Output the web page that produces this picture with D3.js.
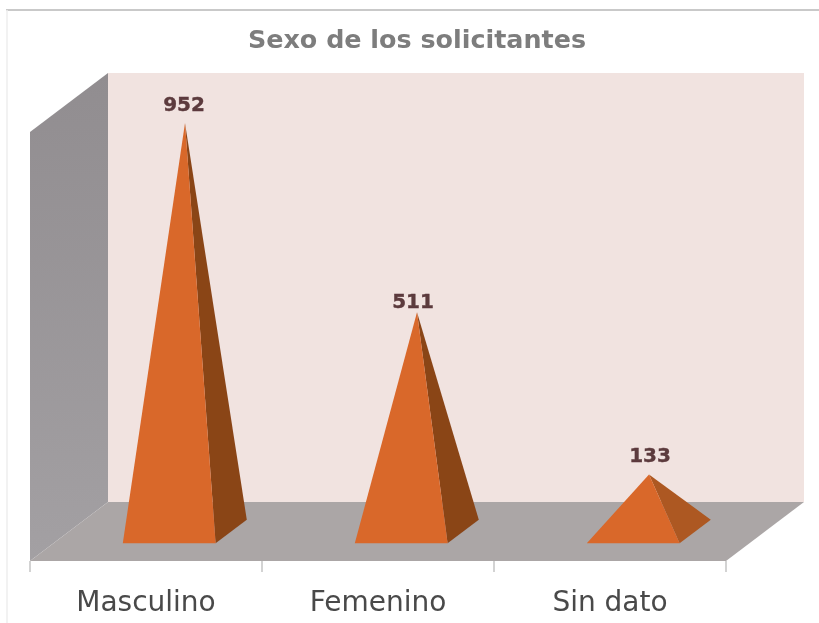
<!DOCTYPE html>
<html>
  <head>
    <title>Sexo de los solicitantes</title>
    <script src="https://d3js.org/d3.v7.min.js"></script>
    <style>
      html, body { margin: 0; padding: 0; background: #fff; }
      svg { display: block; }
    </style>
  </head>
  <body>
    <script>

      var categories = ["Masculino", "Femenino", "Sin dato"]
      var values = [952, 511, 133]
      var title = "Sexo de los solicitantes"

      var w = 819
      var h = 623
      var font = "'DejaVu Sans', sans-serif"

      var svg = d3.select("body")
        .append("svg")
        .attr("width", w)
        .attr("height", h)

      // soft blur, the reference is a scanned picture
      var filter = svg.append("defs").append("filter")
        .attr("id", "soft")
      filter.append("feGaussianBlur").attr("stdDeviation", 0.7)

      // front plane of the chart
      var x_scale = d3.scaleBand().domain(categories).range([30, 726])
      var y_scale = d3.scaleLinear().domain([0, 1000]).range([561, 132])

      // depth goes from 0 (front) to 1 (back wall)
      var depth_x = d3.scaleLinear().domain([0, 1]).range([0, 78])
      var depth_y = d3.scaleLinear().domain([0, 1]).range([0, -59])

      function project(xpos, value, depth) {
        return [xpos + depth_x(depth), y_scale(value) + depth_y(depth)]
      }

      function poly(points) {
        return points.join(" ")
      }

      var x0 = x_scale.range()[0]
      var x1 = x_scale.range()[1]
      var chart = svg.append("g").attr("filter", "url(#soft)")

      // page frame
      chart.append("line").attr("x1", 6).attr("x2", 819).attr("y1", 10).attr("y2", 10)
        .attr("stroke", "#c9c9c9").attr("stroke-width", 2)
      chart.append("line").attr("x1", 7).attr("x2", 7).attr("y1", 10).attr("y2", 623)
        .attr("stroke", "#eeeeee").attr("stroke-width", 1.5)

      // back wall
      chart.append("polygon")
        .attr("points", poly([project(x0, 0, 1), project(x1, 0, 1), project(x1, 1000, 1), project(x0, 1000, 1)]))
        .attr("fill", "#f1e3e0")

      // left wall
      var wall_grad = svg.select("defs").append("linearGradient")
        .attr("id", "wall").attr("x1", 0).attr("x2", 0).attr("y1", 0).attr("y2", 1)
      wall_grad.append("stop").attr("offset", "0%").attr("stop-color", "#918d90")
      wall_grad.append("stop").attr("offset", "100%").attr("stop-color", "#a3a0a3")

      chart.append("polygon")
        .attr("points", poly([project(x0, 0, 0), project(x0, 0, 1), project(x0, 1000, 1), project(x0, 1000, 0)]))
        .attr("fill", "url(#wall)")

      // floor
      chart.append("polygon")
        .attr("points", poly([project(x0, 0, 0), project(x1, 0, 0), project(x1, 0, 1), project(x0, 0, 1)]))
        .attr("fill", "#aba6a6")

      // pyramids
      var pyramid = chart.selectAll(".pyramid")
        .data(categories)
        .enter()
        .append("g")
        .attr("class", "pyramid")

      var base_w = x_scale.bandwidth() * 0.4

      function left(d) { return x_scale(d) + x_scale.bandwidth() * 0.4 - depth_x(0.3) }
      function apex(d, i) { return project(x_scale(d) + x_scale.bandwidth() / 2, values[i], 0.5) }

      // side face
      pyramid.append("polygon")
        .attr("points", function(d, i) {
          return poly([project(left(d) + base_w, 0, 0.3), project(left(d) + base_w, 0, 0.7), apex(d, i)])
        })
        .attr("fill", function(d, i) { return i == 2 ? "#ad5820" : "#8a4519" })

      // front face
      pyramid.append("polygon")
        .attr("points", function(d, i) {
          return poly([project(left(d), 0, 0.3), project(left(d) + base_w, 0, 0.3), apex(d, i)])
        })
        .attr("fill", "#d9672a")

      // ticks between the categories
      var ticks = categories.map(function(d) { return x_scale(d) }).concat([x1])
      chart.selectAll(".tick-mark")
        .data(ticks)
        .enter()
        .append("line")
        .attr("class", "tick-mark")
        .attr("x1", function(d) { return d })
        .attr("x2", function(d) { return d })
        .attr("y1", y_scale(0))
        .attr("y2", y_scale(0) + 11)
        .attr("stroke", "#c4c4c4")
        .attr("stroke-width", 1.5)

      // value labels, the middle one sits closer to its tip in the reference
      chart.selectAll(".value")
        .data(categories)
        .enter()
        .append("text")
        .attr("class", "value")
        .attr("x", function(d, i) { return apex(d, i)[0] - (i == 1 ? 4 : i == 0 ? 1 : -1) })
        .attr("y", function(d, i) { return apex(d, i)[1] - (i == 1 ? 4 : 12) })
        .attr("text-anchor", "middle")
        .attr("font-family", font)
        .attr("font-size", 20)
        .attr("font-weight", 700)
        .attr("fill", "#5c3a3d")
        .attr("stroke", "#5c3a3d")
        .attr("stroke-width", 0.4)
        .text(function(d, i) { return values[i] })

      // category labels
      var x_axis = d3.axisBottom(x_scale).tickSize(0).tickPadding(30)
      var axis_g = chart.append("g")
        .attr("transform", "translate(0," + y_scale(0) + ")")
        .call(x_axis)
      axis_g.select(".domain").remove()
      axis_g.selectAll("text")
        .attr("font-family", font)
        .attr("font-size", 28)
        .attr("fill", "#4a4a4a")

      // title
      chart.append("text")
        .attr("x", 417)
        .attr("y", 48)
        .attr("text-anchor", "middle")
        .attr("font-family", font)
        .attr("font-size", 25.4)
        .attr("font-weight", 700)
        .attr("fill", "#7d7d7d")
        .text(title)

    </script>
  </body>
</html>
